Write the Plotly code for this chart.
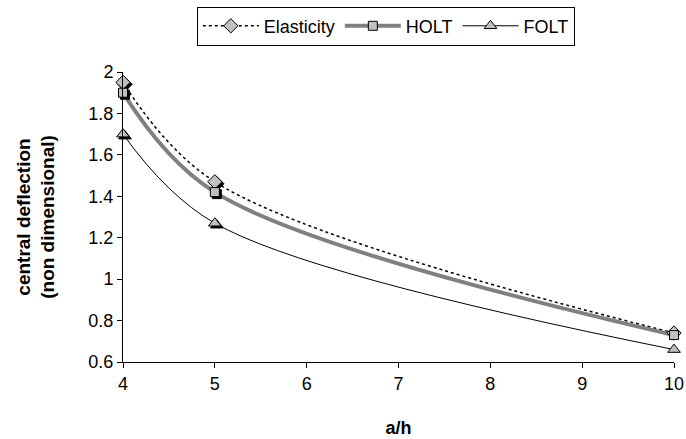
import plotly.graph_objects as go

# Span-to-thickness ratio and non-dimensional central deflection
a_over_h = [4, 5, 10]
elasticity = [1.95, 1.47, 0.74]
holt = [1.90, 1.42, 0.73]
folt = [1.70, 1.27, 0.66]

FONT = "Liberation Sans, Arial, sans-serif"
X_RANGE = [4, 10]
Y_RANGE = [0.6, 2.0]
MARGIN = dict(l=123, r=12, t=72, b=77)
W, H = 686, 439

# small drop shadow behind each marker, offset by a couple of pixels
px_x = (X_RANGE[1] - X_RANGE[0]) / (W - MARGIN["l"] - MARGIN["r"])
px_y = (Y_RANGE[1] - Y_RANGE[0]) / (H - MARGIN["t"] - MARGIN["b"])
SHADOW = 2

series = [
    ("Elasticity", elasticity,
     dict(color="black", width=1.5, dash="dot"), "diamond", 11),
    ("HOLT", holt,
     dict(color="#808080", width=4), "square", 9),
    ("FOLT", folt,
     dict(color="black", width=1), "triangle-up", 11),
]

fig = go.Figure()

for name, vals, line, sym, size in series:
    fig.add_trace(go.Scatter(
        x=a_over_h, y=vals, name=name, mode="lines",
        line=dict(shape="spline", smoothing=1, **line),
        showlegend=False, hoverinfo="skip",
    ))

for name, vals, line, sym, size in series:
    fig.add_trace(go.Scatter(
        x=[v + SHADOW * px_x for v in a_over_h],
        y=[v - SHADOW * px_y for v in vals],
        mode="markers", showlegend=False, hoverinfo="skip", cliponaxis=False,
        marker=dict(symbol=sym, size=size, color="black",
                    line=dict(color="black", width=1)),
    ))

for name, vals, line, sym, size in series:
    fig.add_trace(go.Scatter(
        x=a_over_h, y=vals, name=name, mode="markers", cliponaxis=False,
        marker=dict(symbol=sym, size=size, color="#c0c0c0",
                    line=dict(color="black", width=1)),
        showlegend=False,
    ))

# legend entries: line with marker
for name, vals, line, sym, size in series:
    fig.add_trace(go.Scatter(
        x=[None], y=[None], name=name, mode="lines+markers",
        line=dict(**line),
        marker=dict(symbol=sym, size=size, color="#c0c0c0",
                    line=dict(color="black", width=1)),
    ))

fig.update_layout(
    width=W, height=H,
    margin=MARGIN,
    paper_bgcolor="white", plot_bgcolor="white",
    font=dict(family=FONT, size=18, color="black"),
    showlegend=True,
    legend=dict(
        orientation="h", x=0.477, xanchor="center",
        yref="container", y=0.985, yanchor="top",
        bordercolor="black", borderwidth=1,
        bgcolor="white", font=dict(size=18), itemwidth=56,
        tracegroupgap=0,
    ),
)

fig.update_xaxes(
    range=X_RANGE, tick0=4, dtick=1, showgrid=False, zeroline=False,
    showline=True, linecolor="black", linewidth=1,
    ticks="outside", ticklen=5, tickcolor="black",
    tickfont=dict(size=18), automargin=False,
    title=dict(text="<b>a/h</b>", font=dict(size=18), standoff=28),
)
fig.update_yaxes(
    range=Y_RANGE, tick0=0.6, dtick=0.2, showgrid=False, zeroline=False,
    showline=True, linecolor="black", linewidth=1,
    ticks="outside", ticklen=5, tickcolor="black",
    tickfont=dict(size=18), automargin=False,
    title=dict(text="<b>central deflection<br>(non dimensional)</b>",
               font=dict(size=19), standoff=28),
)

fig.write_html("out.html")
